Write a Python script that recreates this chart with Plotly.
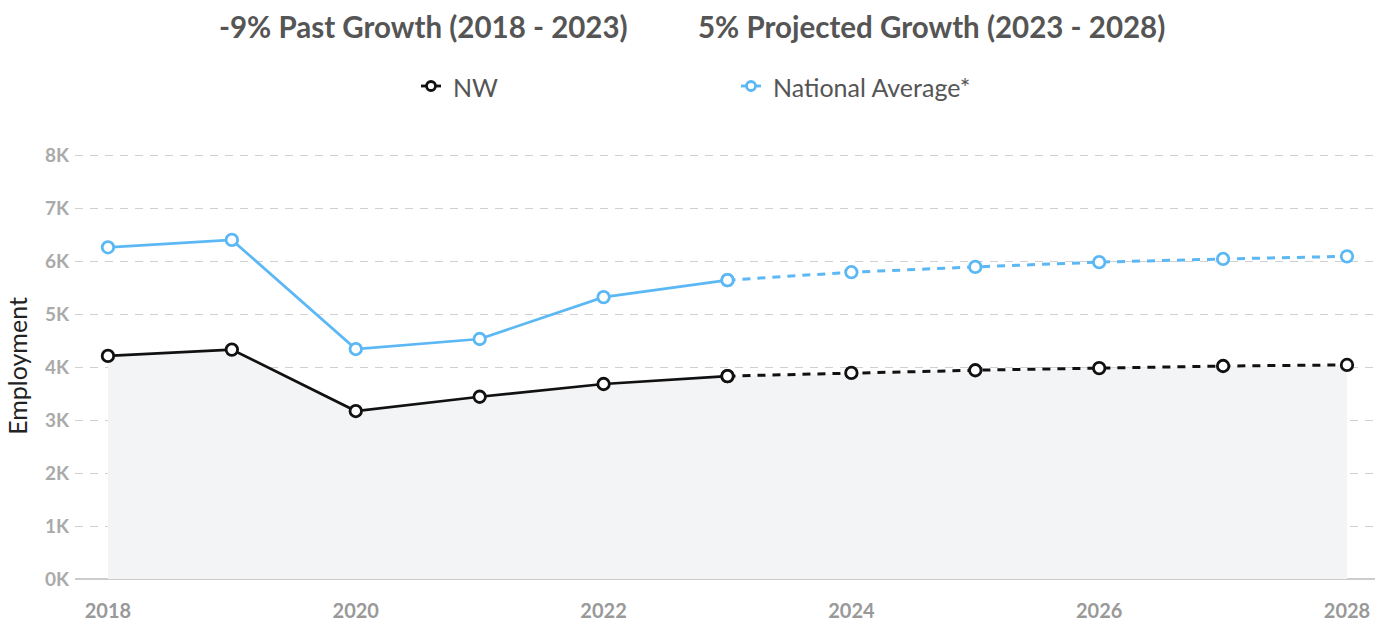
import plotly.graph_objects as go

# Employment by year (NW vs national average scaled), 2023 onward projected
years = [2018, 2019, 2020, 2021, 2022, 2023, 2024, 2025, 2026, 2027, 2028]
nw_jobs = [4210, 4330, 3170, 3440, 3680, 3830, 3890, 3940, 3980, 4020, 4040]
national_jobs = [6260, 6400, 4340, 4530, 5320, 5640, 5790, 5890, 5980, 6040, 6090]
y_ticks = [0, 1000, 2000, 3000, 4000, 5000, 6000, 7000, 8000]
y_tick_labels = ["0K", "1K", "2K", "3K", "4K", "5K", "6K", "7K", "8K"]
x_ticks = [2018, 2020, 2022, 2024, 2026, 2028]
last_actual = years.index(2023)

NW_COLOR = "#111111"
NAT_COLOR = "#5bb8f5"
FONT = "Lato, 'Open Sans', sans-serif"

W, H = 1387, 624
L, R, T, B = 75, 12, 153, 45
PW, PH = W - L - R, H - T - B


def px(x):
    return (x - L) / PW


def py(y):
    return (H - B - y) / PH


fig = go.Figure()

# shaded area under the NW series
fig.add_trace(go.Scatter(
    x=years, y=nw_jobs, mode="none", fill="tozeroy",
    fillcolor="#f3f4f6", hoverinfo="skip", showlegend=False,
))


def add_series(values, color, name):
    marker = dict(size=11.5, color="white", line=dict(color=color, width=2.8))
    # projected part first so the solid segment sits on top
    fig.add_trace(go.Scatter(
        x=years[last_actual:], y=values[last_actual:], mode="lines+markers",
        line=dict(color=color, width=3, dash="8px,7px"), marker=marker,
        name=name, showlegend=False,
    ))
    fig.add_trace(go.Scatter(
        x=years[:last_actual + 1], y=values[:last_actual + 1], mode="lines+markers",
        line=dict(color=color, width=2.7), marker=marker,
        name=name, showlegend=False,
    ))


add_series(national_jobs, NAT_COLOR, "National Average*")
add_series(nw_jobs, NW_COLOR, "NW")

shapes = []
annotations = []

# headline growth figures
annotations.append(dict(
    x=px(423), y=py(26), xref="paper", yref="paper", xanchor="center", yanchor="middle",
    text="<b>-9% Past Growth (2018 - 2023)</b>", showarrow=False,
    font=dict(family=FONT, size=29.5, color="#555555"),
))
annotations.append(dict(
    x=px(931), y=py(26), xref="paper", yref="paper", xanchor="center", yanchor="middle",
    text="<b>5% Projected Growth (2023 - 2028)</b>", showarrow=False,
    font=dict(family=FONT, size=29.5, color="#555555"),
))

# legend entries
for cx, color, label in [(431, NW_COLOR, "NW"), (751, NAT_COLOR, "National Average*")]:
    shapes.append(dict(type="line", xref="paper", yref="paper",
                       x0=px(cx - 10), x1=px(cx + 10), y0=py(86), y1=py(86),
                       line=dict(color=color, width=2.8)))
    shapes.append(dict(type="circle", xref="paper", yref="paper",
                       x0=px(cx - 4.5), x1=px(cx + 4.5), y0=py(81.5), y1=py(90.5),
                       fillcolor="white", line=dict(color=color, width=2.8)))
    annotations.append(dict(
        x=px(cx + 20), y=py(87), xref="paper", yref="paper", xanchor="left", yanchor="middle",
        text=label, showarrow=False, font=dict(family=FONT, size=25, color="#555555"),
    ))

fig.update_layout(
    width=W, height=H,
    margin=dict(l=L, r=R, t=T, b=B),
    plot_bgcolor="white", paper_bgcolor="white",
    showlegend=False,
    shapes=shapes, annotations=annotations,
    font=dict(family=FONT),
    xaxis=dict(
        range=[2017.734, 2028.226], tickvals=x_ticks,
        ticktext=["<b>%d</b>" % v for v in x_ticks],
        showgrid=False, zeroline=False, showline=False, automargin=False,
        tickfont=dict(family=FONT, size=20, color="#999999"),
        ticks="", ticklabelstandoff=18,
    ),
    yaxis=dict(
        range=[0, 8040], tickvals=y_ticks, automargin=False,
        ticktext=["<b>%s</b>" % t for t in y_tick_labels],
        showgrid=True, gridcolor="#d0d0d0", griddash="8px,7px", gridwidth=1.3,
        zeroline=True, zerolinecolor="#cccccc", zerolinewidth=1.6,
        showline=False, ticks="", ticklabelstandoff=5,
        tickfont=dict(family=FONT, size=19, color="#aaaaaa"),
        title=dict(text="Employment", font=dict(family=FONT, size=25, color="#222222"),
                   standoff=10),
    ),
)

fig.write_html("out.html")
